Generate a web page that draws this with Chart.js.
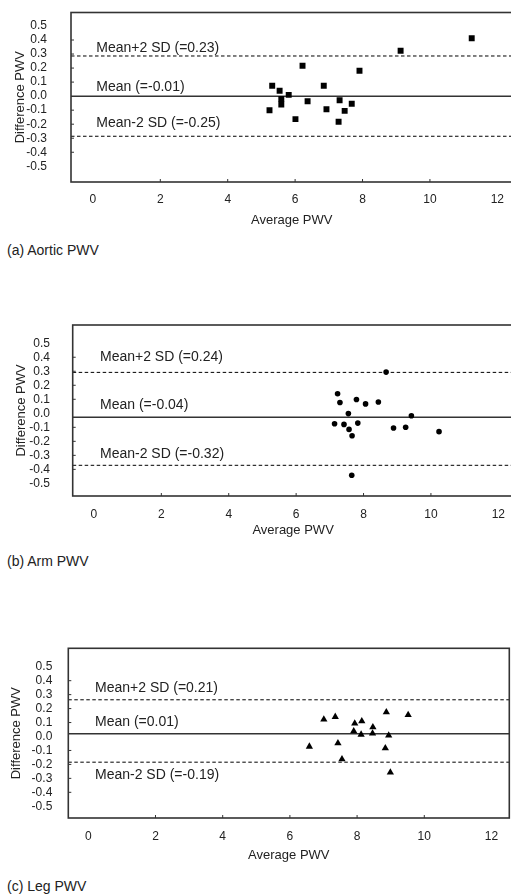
<!DOCTYPE html>
<html>
<head>
<meta charset="utf-8">
<script src="https://cdn.jsdelivr.net/npm/chart.js@4.4.0/dist/chart.umd.min.js"></script>
<style>
  body { margin: 0; background: #fff; overflow: hidden; width: 511px; height: 896px; position: relative;
         font-family: "Liberation Sans", Arial, sans-serif; }
  .panel { position: absolute; left: 0; }
  .cap { position: absolute; left: 7px; font-size: 14px; line-height: 14px; color: #222; white-space: nowrap; }
</style>
</head>
<body>
<div class="panel" style="top:0px"><canvas id="c1" width="520" height="232"></canvas></div>
<div class="cap" style="top:243px">(a) Aortic PWV</div>
<div class="panel" style="top:300px"><canvas id="c2" width="520" height="246"></canvas></div>
<div class="cap" style="top:554px">(b) Arm PWV</div>
<div class="panel" style="top:620px"><canvas id="c3" width="520" height="248"></canvas></div>
<div class="cap" style="top:879px">(c) Leg PWV</div>
<script>
// tick labels shared by the three plots
const xTickValues = [0, 2, 4, 6, 8, 10, 12];
const yTickValues = [0.5, 0.4, 0.3, 0.2, 0.1, 0.0, -0.1, -0.2, -0.3, -0.4, -0.5];
const xMarkValues = [2, 4, 6, 8, 10];
const yMarkValues = [0.4, 0.3, 0.2, 0.1, -0.1, -0.2, -0.3, -0.4];

// (a) aortic
const aorticAvg  = [5.32, 5.54, 5.81, 5.59, 5.59, 5.24, 6.01, 6.22, 6.37, 6.85, 6.93, 7.32, 7.29, 7.47, 7.68, 7.91, 9.13, 11.24];
const aorticDiff = [0.074, 0.038, 0.009, -0.021, -0.06, -0.10, -0.164, 0.217, -0.036, 0.074, -0.093, -0.029, -0.183, -0.105, -0.055, 0.181, 0.324, 0.412];
const aorticLines = [0.286, 0.0, -0.286];   // +2SD, mean, -2SD as drawn
const aorticText = ['Mean+2 SD (=0.23)', 'Mean (=-0.01)', 'Mean-2 SD (=-0.25)'];

// (b) arm
const armAvg  = [8.67, 7.23, 7.30, 7.79, 8.06, 8.44, 7.55, 9.42, 7.14, 7.42, 7.83, 7.57, 7.66, 8.89, 9.25, 10.24, 7.65];
const armDiff = [0.294, 0.139, 0.077, 0.098, 0.067, 0.081, -0.002, -0.017, -0.074, -0.079, -0.07, -0.115, -0.16, -0.105, -0.10, -0.131, -0.442];
const armLines = [0.292, -0.029, -0.371];
const armText = ['Mean+2 SD (=0.24)', 'Mean (=-0.04)', 'Mean-2 SD (=-0.32)'];

// (c) leg
const legAvg  = [6.58, 7.01, 7.35, 7.43, 7.55, 7.93, 8.14, 7.90, 8.12, 8.47, 8.46, 8.87, 9.52, 8.94, 8.84, 8.99];
const legDiff = [-0.072, 0.122, 0.141, -0.048, -0.163, 0.093, 0.11, 0.038, 0.014, 0.067, 0.022, 0.174, 0.155, 0.007, -0.084, -0.258];
const legLines = [0.263, 0.019, -0.184];
const legText = ['Mean+2 SD (=0.21)', 'Mean (=0.01)', 'Mean-2 SD (=-0.19)'];

const FONT = '"Liberation Sans", Arial, sans-serif';
const INK = '#222';

// frame, inward tick marks and the line captions
const framePlugin = {
  id: 'frame',
  afterDatasetsDraw(chart, args, opts) {
    const {ctx, chartArea: a, scales: {x, y}} = chart;
    ctx.save();
    ctx.strokeStyle = '#333';
    ctx.lineWidth = 1;
    ctx.beginPath();
    yMarkValues.forEach(v => { const py = y.getPixelForValue(v); ctx.moveTo(a.left, py); ctx.lineTo(a.left + 3, py); });
    xMarkValues.forEach(v => { const px = x.getPixelForValue(v); ctx.moveTo(px, a.bottom); ctx.lineTo(px, a.bottom - 3); });
    ctx.stroke();
    ctx.lineWidth = 1.6;
    ctx.strokeRect(a.left, a.top, a.right - a.left, a.bottom - a.top);
    ctx.fillStyle = INK;
    ctx.font = '14px ' + FONT;
    ctx.textBaseline = 'middle';
    ctx.textAlign = 'left';
    opts.text.forEach((t, i) => ctx.fillText(t, x.getPixelForValue(opts.textX), y.getPixelForValue(opts.textY[i])));
    ctx.restore();
  }
};

function makePlot(id, avg, diff, lines, text, p) {
  const pts = avg.map((v, i) => ({x: v, y: diff[i]}));
  const lineSet = (v, i) => ({
    data: [{x: p.xMin, y: v}, {x: p.xMax, y: v}],
    showLine: true, pointRadius: 0,
    borderColor: i === 1 ? '#333' : '#000',
    borderWidth: i === 1 ? 1.5 : 1,
    borderDash: i === 1 ? [] : [3.5, 2.5],
    order: 2
  });
  new Chart(document.getElementById(id), {
    type: 'scatter',
    data: {
      datasets: [
        { data: pts, pointStyle: p.marker, pointRadius: p.radius, pointBackgroundColor: '#000',
          pointBorderWidth: 0, order: 1 },
        ...lines.map(lineSet)
      ]
    },
    options: {
      responsive: false,
      animation: false,
      layout: { padding: { top: p.padTop, right: p.padRight, left: 0, bottom: 0 } },
      plugins: {
        legend: { display: false },
        tooltip: { enabled: false },
        frame: { text: text, textX: p.textX, textY: p.textY }
      },
      scales: {
        x: {
          type: 'linear', min: p.xMin, max: p.xMax,
          // tick length used only as the gap between axis and labels
          grid: { display: false, drawTicks: true, tickLength: p.xTickPad },
          border: { display: false },
          afterBuildTicks: s => { s.ticks = xTickValues.map(v => ({value: v})); },
          afterFit: s => { s.height = 50; },
          ticks: { color: INK, font: { family: FONT, size: 12 }, padding: 0, autoSkip: false,
                   maxRotation: 0, callback: v => String(v) },
          title: { display: true, text: 'Average PWV', color: INK, font: { family: FONT, size: 13 },
                   padding: { top: 0, bottom: p.xTitlePad } }
        },
        y: {
          type: 'linear', min: p.yMin, max: p.yMax,
          grid: { display: false, drawTicks: true, tickLength: p.yTickPad },
          border: { display: false },
          afterBuildTicks: s => { s.ticks = yTickValues.map(v => ({value: v})); },
          afterFit: s => { s.width = p.yAxisW; },
          ticks: { color: INK, font: { family: FONT, size: 12 }, padding: 0, autoSkip: false,
                   callback: v => v.toFixed(1) },
          title: { display: true, text: 'Difference PWV', color: INK, font: { family: FONT, size: 13 },
                   padding: { top: p.yTitleOff - 7.8, bottom: 0 } }
        }
      }
    },
    plugins: [framePlugin]
  });
}

makePlot('c1', aorticAvg, aorticDiff, aorticLines, aorticText, {
  xMin: -0.65, xMax: 12.45, yMin: -0.612, yMax: 0.596, padTop: 12.5, padRight: 7.5,
  yAxisW: 71, yTickPad: 24, yTitleOff: 20, xTickPad: 10, xTitlePad: 3.9,
  marker: 'rect', radius: 4.2, textX: 0.1, textY: [0.345, 0.062, -0.195]
});
makePlot('c2', armAvg, armDiff, armLines, armText, {
  xMin: -0.63, xMax: 12.45, yMin: -0.59, yMax: 0.63, padTop: 25, padRight: 6.5,
  yAxisW: 72.7, yTickPad: 22.7, yTitleOff: 21.7, xTickPad: 11.4, xTitlePad: 8.2,
  marker: 'circle', radius: 2.8, textX: 0.18, textY: [0.40, 0.057, -0.289]
});
makePlot('c3', legAvg, legDiff, legLines, legText, {
  xMin: -0.595, xMax: 12.53, yMin: -0.584, yMax: 0.632, padTop: 28.3, padRight: 10.7,
  yAxisW: 68.3, yTickPad: 16, yTitleOff: 16.7, xTickPad: 11.8, xTitlePad: 4.5,
  marker: 'triangle', radius: 4.2, textX: 0.2, textY: [0.345, 0.105, -0.278]
});
</script>
</body>
</html>
